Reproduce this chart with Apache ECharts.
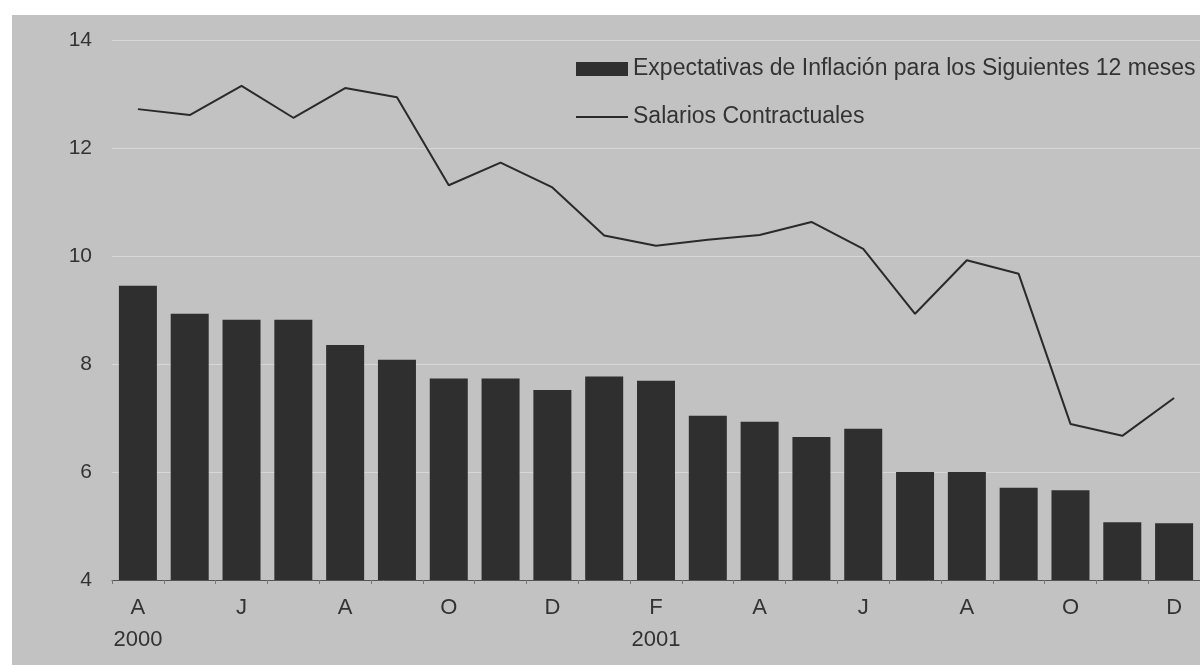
<!DOCTYPE html>
<html>
<head>
<meta charset="utf-8">
<script src="https://cdn.jsdelivr.net/npm/echarts@6/dist/echarts.min.js"></script>
<style>
  html, body { margin: 0; padding: 0; background: #ffffff; }
  #chart { width: 1200px; height: 665px; }
</style>
</head>
<body>
<div id="chart"></div>
<script>
const categories = ['2000-04','2000-05','2000-06','2000-07','2000-08','2000-09','2000-10','2000-11','2000-12',
  '2001-01','2001-02','2001-03','2001-04','2001-05','2001-06','2001-07','2001-08','2001-09','2001-10','2001-11','2001-12'];
const tickLabels = ['A\n2000','','J','','A','','O','','D','','F\n2001','','A','','J','','A','','O','','D'];
const expectativas = [9.45, 8.93, 8.82, 8.82, 8.35, 8.08, 7.73, 7.73, 7.52, 7.77, 7.69, 7.04, 6.93, 6.65, 6.80, 6.0, 6.0, 5.71, 5.66, 5.07, 5.05];
const salarios = [12.72, 12.61, 13.15, 12.56, 13.11, 12.94, 11.31, 11.73, 11.27, 10.38, 10.19, 10.30, 10.39, 10.63, 10.13, 8.93, 9.92, 9.67, 6.89, 6.67, 7.37];
const yTicks = { min: 4, max: 14, interval: 2 };
const seriesNames = ['Expectativas de Inflación para los Siguientes 12 meses', 'Salarios Contractuales'];

const chart = echarts.init(document.getElementById('chart'), null, { renderer: 'canvas' });
const font = '"Liberation Sans", Arial, Helvetica, sans-serif';
chart.setOption({
  backgroundColor: '#ffffff',
  animation: false,
  graphic: [{
    type: 'rect', z: -10, silent: true,
    shape: { x: 12, y: 15, width: 1200, height: 665 },
    style: { fill: '#c2c2c2' }
  }],
  grid: { left: 112, right: -4, top: 40, bottom: 85, containLabel: false },
  legend: {
    orient: 'vertical',
    left: 575,
    top: 56,
    padding: 0,
    itemWidth: 52,
    itemHeight: 14,
    itemGap: 22,
    textStyle: { fontFamily: font, fontSize: 23, color: '#333333', lineHeight: 26 },
    data: [
      { name: seriesNames[0], icon: 'rect' },
      { name: seriesNames[1], itemStyle: { opacity: 0 } }
    ]
  },
  xAxis: {
    type: 'category',
    data: categories,
    boundaryGap: true,
    axisLine: { show: true, lineStyle: { color: '#555555', width: 1 } },
    axisTick: { show: true, interval: 0, length: 4, lineStyle: { color: '#777777' } },
    axisLabel: {
      interval: 0,
      margin: 12,
      fontFamily: font,
      fontSize: 22,
      color: '#333333',
      lineHeight: 32,
      formatter: function (v, i) { return tickLabels[i]; }
    },
    splitLine: { show: false }
  },
  yAxis: {
    type: 'value',
    min: yTicks.min,
    max: yTicks.max,
    interval: yTicks.interval,
    axisLine: { show: false },
    axisTick: { show: false },
    axisLabel: { margin: 20, fontFamily: font, fontSize: 21, color: '#333333' },
    splitLine: { show: true, lineStyle: { color: 'rgba(255,255,255,0.35)', width: 1 } }
  },
  series: [
    {
      name: seriesNames[0],
      type: 'bar',
      data: expectativas,
      barWidth: 38,
      itemStyle: { color: '#2f2f2f' },
      z: 2
    },
    {
      name: seriesNames[1],
      type: 'line',
      data: salarios,
      symbol: 'none',
      smooth: false,
      lineStyle: { color: '#2a2a2a', width: 2 },
      itemStyle: { color: '#2a2a2a' },
      z: 3
    }
  ]
});
</script>
</body>
</html>
